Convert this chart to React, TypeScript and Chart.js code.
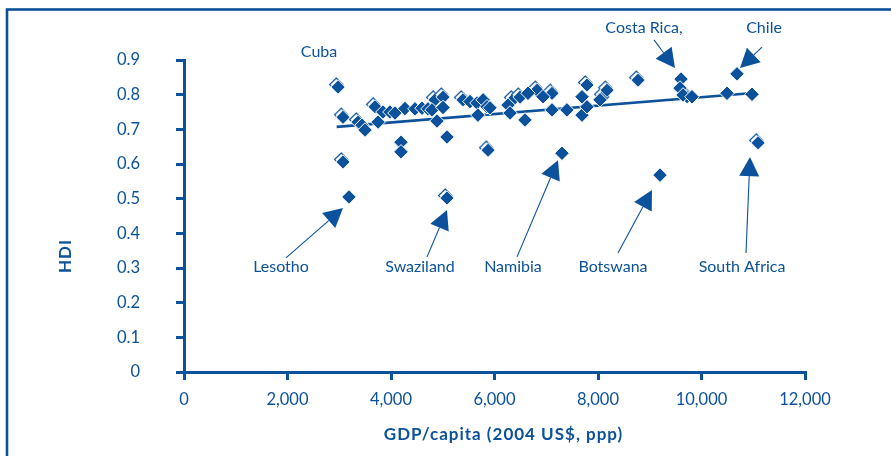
import React, { useEffect, useRef } from 'react';
import { Chart, registerables } from 'chart.js';

Chart.register(...registerables);

const BLUE = '#0b519b';
const FONT = 'Lato, "Open Sans", sans-serif';

// Countries shown with two overlapping markers (two observations)
const gdpDoubled = [2976, 3072, 3072, 3362, 3690, 4850, 5005, 5082, 5390, 5875, 6357, 6493, 6821, 7111, 7787, 8097, 8174, 8773, 9720, 11092];
const hdiDoubled = [0.822, 0.735, 0.606, 0.721, 0.765, 0.785, 0.793, 0.502, 0.785, 0.640, 0.785, 0.793, 0.813, 0.804, 0.828, 0.794, 0.813, 0.842, 0.794, 0.661];

// Countries with a single marker
const gdpSingle = [3188, 3440, 3498, 3750, 3845, 3980, 4077, 4193, 4193, 4270, 4464, 4600, 4715, 4792, 4889, 5005, 5082, 5527, 5662, 5780, 5855, 5913, 5680, 6261, 6300, 6589, 6647, 6937, 7111, 7304, 7400, 7691, 7691, 7787, 8039, 9198, 9604, 9585, 9643, 9816, 10493, 10686, 10976];
const hdiSingle = [0.505, 0.712, 0.698, 0.721, 0.750, 0.750, 0.747, 0.663, 0.635, 0.760, 0.759, 0.761, 0.759, 0.756, 0.724, 0.763, 0.678, 0.780, 0.776, 0.785, 0.765, 0.762, 0.741, 0.770, 0.747, 0.727, 0.804, 0.794, 0.756, 0.631, 0.756, 0.794, 0.741, 0.765, 0.785, 0.568, 0.845, 0.819, 0.799, 0.794, 0.804, 0.860, 0.801];

// Linear trend line end points
const trendGdp = [2950, 11000];
const trendHdi = [0.707, 0.805];

// Axis ticks
const xTickValues = [0, 2000, 4000, 6000, 8000, 10000, 12000];
const yTickValues = [0, 0.1, 0.2, 0.3, 0.4, 0.5, 0.6, 0.7, 0.8, 0.9];

// Annotations (in data coordinates)
const noteLabels = ['Cuba', 'Lesotho', 'Swaziland', 'Namibia', 'Botswana', 'South Africa', 'Costa Rica,', 'Chile'];
const noteGdp = [2609, 1874, 4560, 6357, 8290, 10783, 8889, 11208];
const noteHdi = [0.923, 0.303, 0.303, 0.303, 0.303, 0.303, 0.992, 0.992];
const arrowFromGdp = [null, 1971, 4696, 6435, 8386, 10860, 9082, 11169];
const arrowFromHdi = [null, 0.329, 0.332, 0.332, 0.343, 0.343, 0.958, 0.937];
const arrowToGdp = [null, 3072, 5082, 7227, 9043, 10937, 9488, 10744];
const arrowToHdi = [null, 0.473, 0.467, 0.611, 0.525, 0.62, 0.877, 0.877];

function makeDoubleMarker(): HTMLCanvasElement {
  const c = document.createElement('canvas');
  c.width = 24;
  c.height = 24;
  const g = c.getContext('2d')!;
  const diamond = (cx: number, cy: number, r: number) => {
    g.beginPath();
    g.moveTo(cx, cy - r);
    g.lineTo(cx + r, cy);
    g.lineTo(cx, cy + r);
    g.lineTo(cx - r, cy);
    g.closePath();
  };
  diamond(12 - 1.8, 12 - 2.4, 6.6);
  g.fillStyle = '#ffffff';
  g.fill();
  g.strokeStyle = BLUE;
  g.lineWidth = 1.2;
  g.stroke();
  diamond(12, 12, 7.2);
  g.fillStyle = BLUE;
  g.fill();
  g.strokeStyle = '#ffffff';
  g.lineWidth = 1;
  g.stroke();
  return c;
}

const overlayPlugin = {
  id: 'overlay',
  afterDraw(chart: any) {
    const { ctx, chartArea, scales } = chart;
    const x = scales.x;
    const y = scales.y;
    ctx.save();
    // frame
    ctx.strokeStyle = BLUE;
    ctx.lineWidth = 2.6;
    ctx.strokeRect(7, 9.5, 2000, 2000);

    ctx.fillStyle = BLUE;
    ctx.textAlign = 'center';
    ctx.textBaseline = 'middle';
    // axis titles
    ctx.font = `bold 17px ${FONT}`;
    (ctx as any).letterSpacing = '1px';
    ctx.fillText('GDP/capita (2004 US$, ppp)', (chartArea.left + chartArea.right) / 2 + 9, chartArea.bottom + 63);
    ctx.save();
    ctx.translate(chartArea.left - 118, chartArea.top + 196);
    ctx.rotate(-Math.PI / 2);
    ctx.fillText('HDI', 0, 0);
    ctx.restore();
    (ctx as any).letterSpacing = '0px';

    // annotations
    ctx.font = `16px ${FONT}`;
    for (let i = 0; i < noteLabels.length; i++) {
      ctx.fillText(noteLabels[i], x.getPixelForValue(noteGdp[i]), y.getPixelForValue(noteHdi[i]));
      if (arrowFromGdp[i] == null) continue;
      const x0 = x.getPixelForValue(arrowFromGdp[i]);
      const y0 = y.getPixelForValue(arrowFromHdi[i]);
      const x1 = x.getPixelForValue(arrowToGdp[i]);
      const y1 = y.getPixelForValue(arrowToHdi[i]);
      const dx = x1 - x0;
      const dy = y1 - y0;
      const len = Math.hypot(dx, dy);
      const ux = dx / len;
      const uy = dy / len;
      const L = 19;
      const H = 10;
      const bx = x1 - ux * L;
      const by = y1 - uy * L;
      ctx.strokeStyle = BLUE;
      ctx.lineWidth = 1.1;
      ctx.beginPath();
      ctx.moveTo(x0, y0);
      ctx.lineTo(bx, by);
      ctx.stroke();
      ctx.beginPath();
      ctx.moveTo(x1, y1);
      ctx.lineTo(bx - uy * H, by + ux * H);
      ctx.lineTo(bx + uy * H, by - ux * H);
      ctx.closePath();
      ctx.fill();
    }
    ctx.restore();
  },
};

export default function App() {
  const ref = useRef<HTMLCanvasElement>(null);
  useEffect(() => {
    document.body.style.margin = '0';
    const doubleMarker = makeDoubleMarker();
    const chart = new Chart(ref.current!, {
      type: 'scatter',
      data: {
        datasets: [
          {
            type: 'line',
            label: 'Trend',
            data: trendGdp.map((g, i) => ({ x: g, y: trendHdi[i] })),
            borderColor: BLUE,
            borderWidth: 2.6,
            pointRadius: 0,
            showLine: true,
            order: 3,
          } as any,
          {
            label: 'Doubled',
            data: gdpDoubled.map((g, i) => ({ x: g, y: hdiDoubled[i] })),
            pointStyle: doubleMarker as any,
            pointRadius: 7,
            order: 2,
          },
          {
            label: 'Single',
            data: gdpSingle.map((g, i) => ({ x: g, y: hdiSingle[i] })),
            pointStyle: 'rectRot',
            pointRadius: 7.3,
            backgroundColor: BLUE,
            borderColor: '#ffffff',
            borderWidth: 1,
            order: 1,
          },
        ],
      },
      options: {
        responsive: false,
        animation: false,
        devicePixelRatio: 1,
        layout: { padding: { top: 60, right: 86, left: 0, bottom: 0 } },
        plugins: { legend: { display: false }, tooltip: { enabled: false } },
        scales: {
          x: {
            type: 'linear',
            min: 0,
            max: 12000,
            afterFit: (s: any) => { s.height = 84; },
            afterBuildTicks: (s: any) => { s.ticks = xTickValues.map((v) => ({ value: v })); },
            ticks: {
              color: BLUE,
              font: { family: FONT, size: 16.5 },
              padding: 10,
              callback: (v: any) => Number(v).toLocaleString('en-US'),
            },
            grid: { drawOnChartArea: false, drawTicks: true, tickLength: 8, color: BLUE, lineWidth: 3 },
            border: { display: true, color: BLUE, width: 3 },
          },
          y: {
            type: 'linear',
            min: 0,
            max: 0.9,
            afterFit: (s: any) => { s.width = 184; },
            afterBuildTicks: (s: any) => { s.ticks = yTickValues.map((v) => ({ value: v })); },
            ticks: {
              color: BLUE,
              font: { family: FONT, size: 16.5 },
              padding: 36,
              callback: (v: any) => (Number(v) === 0 ? '0' : Number(v).toFixed(1)),
            },
            grid: { drawOnChartArea: false, drawTicks: true, tickLength: 8, color: BLUE, lineWidth: 3 },
            border: { display: true, color: BLUE, width: 3 },
          },
        },
      },
      plugins: [overlayPlugin],
    });
    return () => chart.destroy();
  }, []);
  return (
    <div style={{ position: 'fixed', left: 0, top: 0, width: 891, height: 456, background: '#fff' }}>
      <canvas ref={ref} width={891} height={456} style={{ display: 'block' }} />
    </div>
  );
}
